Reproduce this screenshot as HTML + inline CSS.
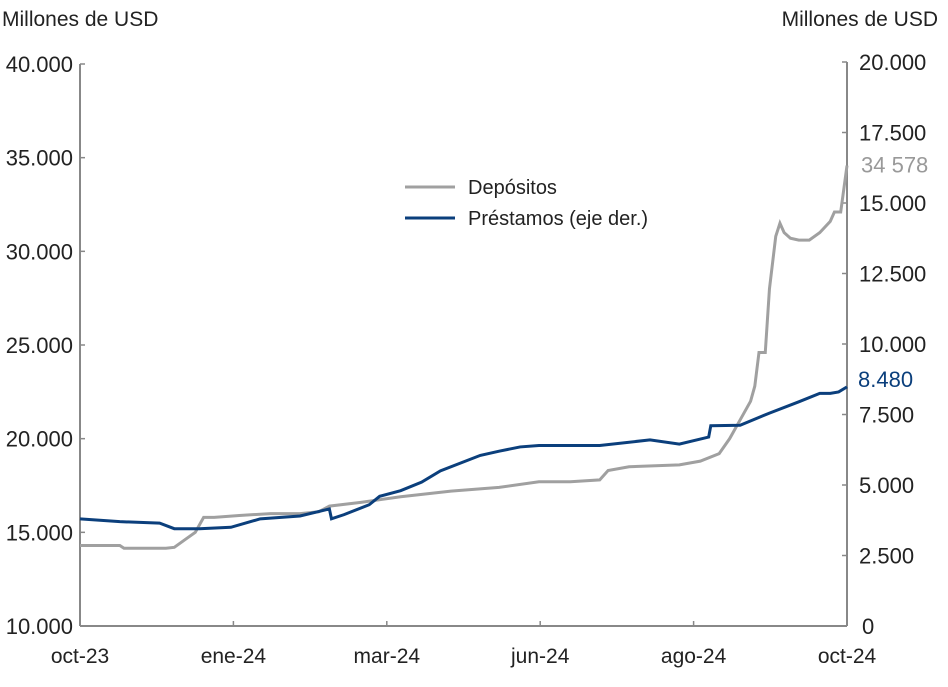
<!DOCTYPE html>
<html><head><meta charset="utf-8"><style>
body{margin:0;background:#fff;}
svg text{font-family:"Liberation Sans",sans-serif;}
</style></head><body>
<svg id="c" width="948" height="682" xmlns="http://www.w3.org/2000/svg">
<text x="2" y="26" font-size="21" fill="#222">Millones de USD</text>
<text x="938" y="26" font-size="21" fill="#222" text-anchor="end">Millones de USD</text>
<g id="axes"></g>
<g id="series"></g>
<line x1="405" y1="187" x2="455" y2="187" stroke="#a0a0a0" stroke-width="3"/>
<text x="468" y="194" font-size="20" fill="#222">Depósitos</text>
<line x1="405" y1="218" x2="455" y2="218" stroke="#0b3f7c" stroke-width="3"/>
<text x="468" y="225" font-size="20" fill="#222">Préstamos (eje der.)</text>
</svg>
<script>
const xLabels=["oct-23","ene-24","mar-24","jun-24","ago-24","oct-24"];
const leftTicks=[10000,15000,20000,25000,30000,35000,40000];
const rightTicks=[0,2500,5000,7500,10000,12500,15000,17500,20000];
const depDays=[0,19,21,41,45,50,55,59,64,76,91,105,114,119,134,153,177,200,219,234,248,252,262,286,296,305,310,315,320,322,324,327,329,332,334,336,339,343,348,353,358,360,363,366];
const depVals=[14300,14300,14150,14150,14200,14600,15000,15800,15800,15900,16000,16000,16100,16400,16600,16900,17200,17400,17700,17700,17800,18300,18500,18600,18800,19200,20000,21000,22000,22800,24600,24600,28000,30800,31500,31000,30700,30600,30600,31000,31600,32100,32100,34578];
const loanDays=[0,19,38,45,57,72,86,105,119,120,126,138,143,153,163,172,191,200,210,219,248,272,286,300,301,315,329,343,353,358,362,366];
const loanVals=[3800,3700,3650,3450,3450,3500,3800,3900,4150,3800,3950,4300,4600,4800,5100,5500,6050,6200,6350,6400,6400,6600,6450,6700,7100,7120,7550,7950,8250,8250,8300,8480];
const X0=80,X1=847,DMAX=366;
const x=d=>X0+(X1-X0)*d/DMAX;
const yL=v=>626-(v-10000)*(562/30000);
const yR=v=>626-v*(564/20000);
const NS="http://www.w3.org/2000/svg";
function mk(tag,attrs,parent,txt){const e=document.createElementNS(NS,tag);for(const k in attrs)e.setAttribute(k,attrs[k]);if(txt!==undefined)e.textContent=txt;parent.appendChild(e);return e;}
const ax=document.getElementById('axes');
let a=mk('line',{x1:X0,y1:yL(40000),x2:X0,y2:626,stroke:'#888','stroke-width':2},ax);


a=mk('line',{x1:X1,y1:yR(20000),x2:X1,y2:626,stroke:'#888','stroke-width':2},ax);


a=mk('line',{x1:X0,y1:626,x2:X1,y2:626,stroke:'#888','stroke-width':2},ax);


const fmt=v=>v===0?"0":v.toLocaleString('de-DE').replace(/,/g,'.');
leftTicks.forEach(v=>{
 const t=mk('line',{x1:X0,y1:yL(v),x2:X0+5,y2:yL(v),stroke:'#888','stroke-width':1.5},ax);
 
 
 const l=mk('text',{x:73,y:yL(v)+8,'font-size':22,fill:'#222','text-anchor':'end'},ax,fmt(v));
 
 
});
rightTicks.forEach(v=>{
 const t=mk('line',{x1:X1-5,y1:yR(v),x2:X1,y2:yR(v),stroke:'#888','stroke-width':1.5},ax);
 
 
 const l=mk('text',{x:(v===0?862:859),y:yR(v)+8,'font-size':22,fill:'#222'},ax,fmt(v));
 
 
});
xLabels.forEach((s,i)=>{
 const xx=X0+(X1-X0)*i/(xLabels.length-1);
 const t=mk('line',{x1:xx,y1:621,x2:xx,y2:626,stroke:'#888','stroke-width':1.5},ax);
 
 
 const l=mk('text',{x:xx,y:663,'font-size':21,fill:'#222','text-anchor':'middle'},ax,s);
 
 
});
const sg=document.getElementById('series');
let p=mk('polyline',{points:depDays.map((d,i)=>x(d)+','+yL(depVals[i])).join(' '),fill:'none',stroke:'#a0a0a0','stroke-width':3},sg);


p=mk('polyline',{points:loanDays.map((d,i)=>x(d)+','+yR(loanVals[i])).join(' '),fill:'none',stroke:'#0b3f7c','stroke-width':3},sg);


const lastD=depVals[depVals.length-1],lastL=loanVals[loanVals.length-1];
let e=mk('text',{x:861,y:yL(lastD)+7,'font-size':22,fill:'#999'},sg,lastD.toLocaleString('fr-FR').replace(/\u202f|\u00a0/g,' '));


e=mk('text',{x:858,y:yR(lastL),'font-size':22,fill:'#0b3f7c'},sg,fmt(lastL));


</script>
</body></html>
